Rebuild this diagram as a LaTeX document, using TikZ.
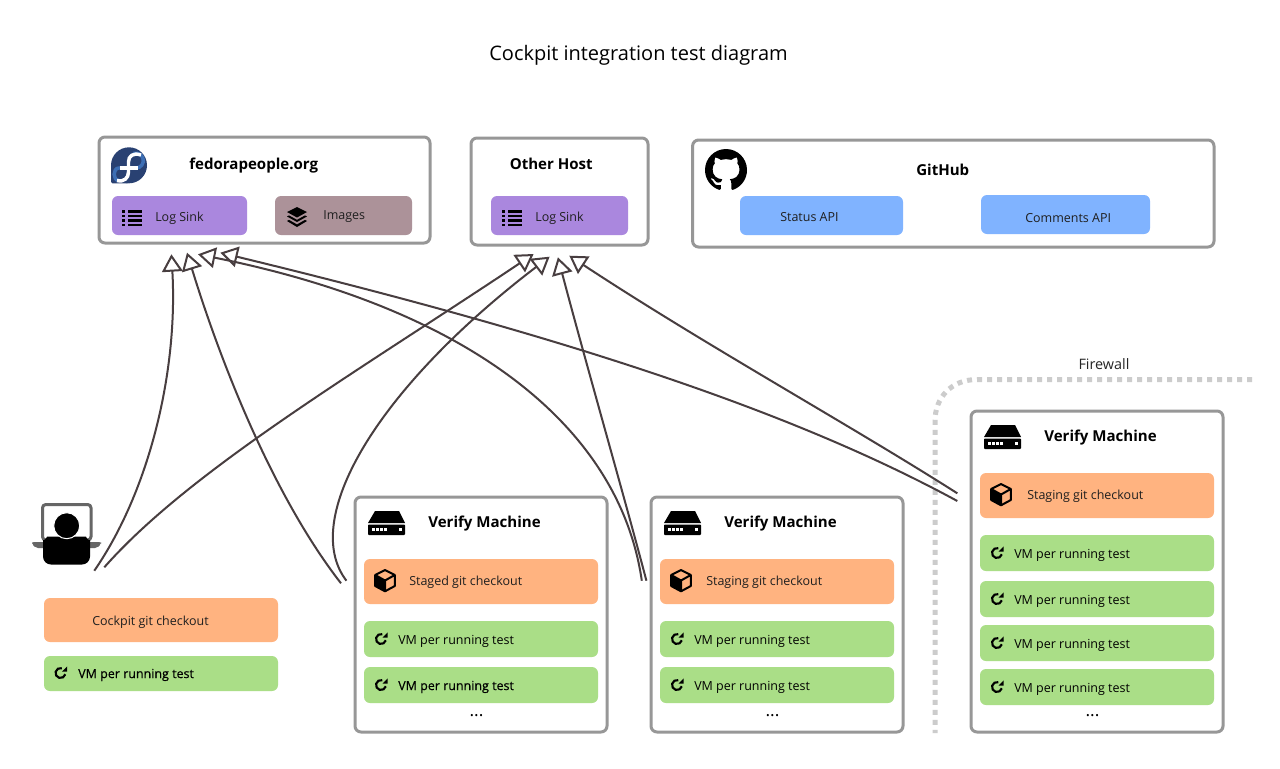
\documentclass[tikz,border=0pt]{standalone}
\usepackage{fontspec}
\setmainfont{Open Sans}
\newfontfamily\fakeb[FakeBold=0.35]{Open Sans}
\usetikzlibrary{arrows.meta,svg.path}
\definecolor{frameC}{HTML}{979797}
\definecolor{purpC}{HTML}{AA87DE}
\definecolor{mauveC}{HTML}{AC9299}
\definecolor{blueC}{HTML}{80B3FF}
\definecolor{orngC}{HTML}{FFB380}
\definecolor{grnC}{HTML}{AADE87}
\definecolor{lineC}{HTML}{483E40}
\definecolor{wallC}{HTML}{CCCCCC}
\definecolor{fedD}{HTML}{294172}
\definecolor{fedL}{HTML}{3C6EB4}
\tikzset{
  x=0.75pt,y=-0.75pt,
  panel/.style={draw=frameC,line width=2.25pt,fill=white,rounded corners=4.5pt},
  purple box/.style={fill=purpC,rounded corners=4.5pt},
  mauve box/.style={fill=mauveC,rounded corners=4.5pt},
  blue box/.style={fill=blueC,rounded corners=4.5pt},
  orange box/.style={fill=orngC,rounded corners=4.5pt},
  green box/.style={fill=grnC,rounded corners=4.5pt},
  lbl/.style={anchor=mid west,inner sep=0pt,yshift=-1.1pt,font=\fontsize{9.36}{11}\selectfont,text=black!88},
  vmtext/.style={text=black},
  vmbold/.style={font=\fontsize{9.36}{11}\fakeb,text=black},
  head/.style={anchor=mid west,inner sep=0pt,yshift=-1.8pt,font=\fontsize{11.3}{13}\selectfont\bfseries},
  dots/.style={anchor=center,inner sep=0pt,font=\fontsize{13}{14}\selectfont,text=black},
  link/.style={draw=lineC,line width=1.5pt,-{Triangle[open,length=13pt,width=15.5pt,line width=1.5pt]}},
}
% \bx{style}{name}{x0}{y0}{x1}{y1}
\newcommand\bx[6]{%
  \pgfmathsetmacro\mycx{(#3+#5)/2}\pgfmathsetmacro\mycy{(#4+#6)/2}%
  \pgfmathsetmacro\myw{(#5-#3)*0.75}\pgfmathsetmacro\myh{(#6-#4)*0.75}%
  \node[#1,minimum width=\myw pt,minimum height=\myh pt,inner sep=0pt,outer sep=0pt] (#2) at (\mycx,\mycy) {};}
\newcommand\listic[2]{\begin{scope}[shift={(#1,#2)}]
  \foreach \yy in {0,4.6,9.2,13.6}{\fill (0,\yy) rectangle (3.4,\yy+2.6);\fill (5.6,\yy) rectangle (20,\yy+2.6);}
\end{scope}}
\newcommand\layersic[2]{\begin{scope}[shift={(#1,#2)}]
  \fill (0,-10) -- (10,-5) -- (0,0.5) -- (-10,-5) -- cycle;
  \fill (-10,-0.5) -- (-8,-1.6) -- (0,2.8) -- (8,-1.6) -- (10,-0.5) -- (0,5) -- cycle;
  \fill (-10,4) -- (-8,2.9) -- (0,7.4) -- (8,2.9) -- (10,4) -- (0,10) -- cycle;
\end{scope}}
\newcommand\cubeic[2]{\begin{scope}[shift={(#1,#2)}]
  \fill (-9.8,-5.5) -- (-0.5,0) -- (-0.5,11) -- (-9.8,5.5) -- cycle;
  \draw[line width=1.5pt,line join=round] (0,-10.5) -- (9.8,-5.5) -- (9.8,5.5) -- (0,10.8) -- (-9.8,5.5) -- (-9.8,-5.5) -- cycle;
  \draw[line width=1.5pt,line join=round] (-9.8,-5.5) -- (0,0) -- (9.8,-5.5) (0,0) -- (0,10.8);
\end{scope}}
\newcommand\refreshic[2]{\begin{scope}[shift={(#1,#2)}]
  \draw[line width=1.6pt] (-15:3.75pt) arc[start angle=-15,end angle=-285,radius=3.75pt];
  \fill (1.5,-1.5) -- (6.6,-1.5) -- (6.6,-6.6) -- cycle;
\end{scope}}
\newcommand\serveric[2]{\begin{scope}[shift={(#1,#2)}]
  \fill (7,0) -- (31,0) -- (37,12) -- (0,12) -- cycle;
  \fill[rounded corners=0.7pt] (0,13.5) rectangle (37,24);
  \foreach \xx in {4,8,12,16,31}{\fill[white] (\xx,17.3) rectangle (\xx+2.6,20);}
\end{scope}}
\begin{document}
\begin{tikzpicture}
\useasboundingbox (0,0) rectangle (1280,768);
\fill[white] (0,0) rectangle (1280,768);
\node[anchor=mid,inner sep=0pt,yshift=-2.2pt,font=\fontsize{15}{18}\selectfont] (title) at (638.5,54) {Cockpit integration test diagram};

% firewall
\draw[wallC,line width=3.75pt,dash pattern=on 3.75pt off 3.75pt] (1252,379.5) -- (977,379.5) .. controls (951,379.5) and (935,398) .. (935,421) -- (935,733);
\node[anchor=mid,inner sep=0pt,yshift=-0.8pt,font=\fontsize{10.8}{13}\selectfont,text=black!85] (fw) at (1104,365) {Firewall};

% hosts
\bx{panel}{fedora}{99}{137}{430}{243}
\bx{panel}{other}{471}{138}{648}{245}
\bx{panel}{github}{692.6}{140}{1214}{247}
\bx{purple box}{sinka}{112}{196}{247}{235}
\bx{mauve box}{images}{275}{196}{412}{235}
\bx{purple box}{sinkb}{491}{196}{628}{235}
\bx{blue box}{status}{740}{196}{903}{235}
\bx{blue box}{comments}{981}{195}{1150}{234}
\node[head] (fedoraT) at (189,164) {fedorapeople.org};
\node[head] (otherT) at (509.5,164) {Other Host};
\node[head] (githubT) at (916,170) {GitHub};
\node[lbl] (sinkaT) at (155,216.5) {Log Sink};
\node[lbl] (imagesT) at (323,214.5) {Images};
\node[lbl] (sinkbT) at (535,216.5) {Log Sink};
\node[lbl] (statusT) at (780,216) {Status API};
\node[lbl] (commentsT) at (1025,217) {Comments API};
\listic{122}{210}
\listic{502}{210}
\layersic{297}{217}

% fedora logo
\fill[fedD] (129,165.3) circle[radius=18];
\fill[fedD,rounded corners=1pt] (111,165.3) -- (111,183.3) -- (129,183.3) -- (129,165.3) -- cycle;
\draw[fedL,line width=2.6pt] (126,168) -- (119,168) .. controls (112.5,168) and (112.5,180.5) .. (119,180.5);
\draw[fedL,line width=2.6pt] (133,153.5) .. controls (145,150.5) and (147,167.5) .. (136,168);
\draw[white,line width=2.6pt] (117,180.5) .. controls (124,182.3) and (128.5,178) .. (128.5,172) -- (128.5,162) .. controls (128.5,156) and (133,152.3) .. (141,155);
\draw[white,line width=2.6pt] (119.5,168) -- (138,168);

% github logo
\begin{scope}[shift={(705,149)},xscale=1.969,yscale=-1.969]
\fill svg {M8 0 C3.58 0 0 3.58 0 8 c0 3.54 2.29 6.53 5.47 7.59 c0.4 0.07 0.55 -0.17 0.55 -0.38 c0 -0.19 -0.01 -0.82 -0.01 -1.49 c-2.01 0.37 -2.53 -0.49 -2.69 -0.94 c-0.09 -0.23 -0.48 -0.94 -0.82 -1.13 c-0.28 -0.15 -0.68 -0.52 -0.01 -0.53 c0.63 -0.01 1.08 0.58 1.23 0.82 c0.72 1.21 1.87 0.87 2.33 0.66 c0.07 -0.52 0.28 -0.87 0.51 -1.07 c-1.78 -0.2 -3.64 -0.89 -3.64 -3.95 c0 -0.87 0.31 -1.59 0.82 -2.15 c-0.08 -0.2 -0.36 -1.02 0.08 -2.12 c0 0 0.67 -0.21 2.2 0.82 c0.64 -0.18 1.32 -0.27 2 -0.27 c0.68 0 1.36 0.09 2 0.27 c1.53 -1.04 2.2 -0.82 2.2 -0.82 c0.44 1.1 0.16 1.92 0.08 2.12 c0.51 0.56 0.82 1.27 0.82 2.15 c0 3.07 -1.87 3.75 -3.65 3.95 c0.29 0.25 0.54 0.73 0.54 1.48 c0 1.07 -0.01 1.93 -0.01 2.2 c0 0.21 0.15 0.46 0.55 0.38 C13.71 14.53 16 11.54 16 8 c0 -4.42 -3.58 -8 -8 -8 z};
\end{scope}

% workstation
\draw[black!60,line width=2.25pt,fill=white,rounded corners=2.5pt] (42.5,504.5) rectangle (91,540);
\fill[black!60,rounded corners=1.5pt] (32,542) -- (101,542) -- (101,544) -- (97,548) -- (36,548) -- (32,544) -- cycle;
\fill[black,rounded corners=6pt] (43,564.5) -- (43,548) .. controls (43,542) and (48,536.5) .. (55,536.5) -- (78,536.5) .. controls (85,536.5) and (90,542) .. (90,548) -- (90,564.5) -- cycle;
\draw[black,fill=black,draw=white,line width=0.75pt] (66.7,525.7) circle[radius=13];
\bx{orange box}{checkoutU}{44}{598}{278}{642}
\bx{green box}{vmU}{44}{656}{278}{691}
\node[lbl] (checkoutUT) at (92,620) {Cockpit git checkout};
\node[lbl,vmbold] (vmUT) at (78,673) {VM per running test};
\refreshic{60.5}{673}

% verify machine 1
\bx{panel}{vma}{355}{497}{607}{732}
\serveric{368}{511}
\node[head] (vmaT) at (428,522) {Verify Machine};
\bx{orange box}{gita}{364}{559}{598}{604}
\cubeic{385}{580.5}
\node[lbl] (gitaT) at (409,580) {Staged git checkout};
\bx{green box}{vmaA}{364}{621}{598}{657}
\refreshic{381}{639}
\node[lbl,vmtext] (vmaAT) at (398,639) {VM per running test};
\bx{green box}{vmaB}{364}{667}{598}{703}
\refreshic{381}{685}
\node[lbl,vmbold] (vmaBT) at (398,685) {VM per running test};
\node[dots] (dotsa) at (476.5,716) {...};

% verify machine 2
\bx{panel}{vmb}{651}{497}{903}{732}
\serveric{664}{511}
\node[head] (vmbT) at (724,522) {Verify Machine};
\bx{orange box}{gitb}{660}{559}{894}{604}
\cubeic{681}{580.5}
\node[lbl] (gitbT) at (706,580) {Staging git checkout};
\bx{green box}{vmbA}{660}{621}{894}{657}
\refreshic{677}{639}
\node[lbl,vmtext] (vmbAT) at (694,639) {VM per running test};
\bx{green box}{vmbB}{660}{667}{894}{703}
\refreshic{677}{685}
\node[lbl,vmtext] (vmbBT) at (694,685) {VM per running test};
\node[dots] (dotsb) at (772.5,716) {...};

% verify machine 3
\bx{panel}{vmc}{971}{411}{1223}{732}
\serveric{984}{425}
\node[head] (vmcT) at (1044,436) {Verify Machine};
\bx{orange box}{gitc}{980}{473}{1214}{518}
\cubeic{1001}{494.5}
\node[lbl] (gitcT) at (1027,494) {Staging git checkout};
\bx{green box}{vmcA}{980}{535}{1214}{571}
\refreshic{997}{553}
\node[lbl,vmtext] (vmcAT) at (1014,553) {VM per running test};
\bx{green box}{vmcB}{980}{581}{1214}{617}
\refreshic{997}{599}
\node[lbl,vmtext] (vmcBT) at (1014,599) {VM per running test};
\bx{green box}{vmcC}{980}{625}{1214}{661}
\refreshic{997}{643}
\node[lbl,vmtext] (vmcCT) at (1014,643) {VM per running test};
\bx{green box}{vmcD}{980}{669}{1214}{705}
\refreshic{997}{687}
\node[lbl,vmtext] (vmcDT) at (1014,687) {VM per running test};
\node[dots] (dotsc) at (1092.5,716) {...};

% connector end points
\coordinate (ua) at (94.3,570.7);
\coordinate (ub) at (104.3,567.3);
\coordinate (aa) at (341,583.3);
\coordinate (ab) at (346.4,580.7);
\coordinate (ba) at (641.8,580.7);
\coordinate (bb) at (646.4,580.7);
\coordinate (ca) at (957.3,501);
\coordinate (cb) at (957.3,493.3);
\coordinate (fa) at (171.4,254.3);
\coordinate (fb) at (187,252.7);
\coordinate (fc) at (198,254.3);
\coordinate (fd) at (220.4,252.7);
\coordinate (oa) at (533.6,254);
\coordinate (ob) at (549.6,256.7);
\coordinate (oc) at (557.9,257.3);
\coordinate (od) at (569.3,255.7);

\draw[link] (ua) .. controls (150,490) and (178,370) .. (fa);
\draw[link] (ub) .. controls (190,470) and (360,370) .. (oa);
\draw[link] (aa) .. controls (276,500) and (223,370) .. (fb);
\draw[link] (ab) .. controls (300,520) and (375,390) .. (ob);
\draw[link] (ba) .. controls (620,430) and (475,310) .. (fc);
\draw[link] (bb) .. controls (628,510) and (585,360) .. (oc);
\draw[link] (ca) .. controls (790,410) and (560,335) .. (fd);
\draw[link] (cb) .. controls (850,425) and (705,345) .. (od);
\end{tikzpicture}
\end{document}
